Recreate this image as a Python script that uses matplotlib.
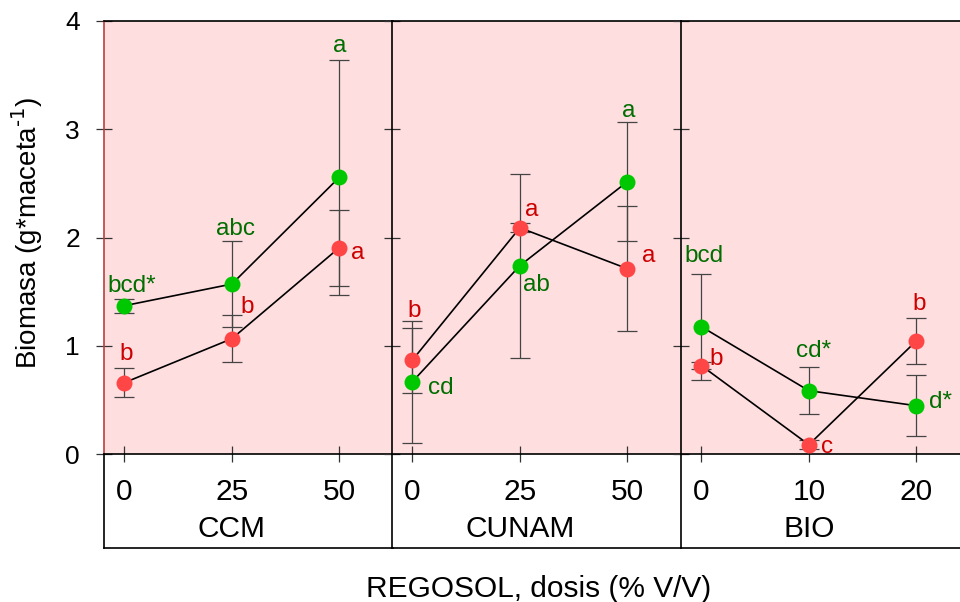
import matplotlib
matplotlib.use("Agg")
import matplotlib.pyplot as plt

plt.rcParams['font.family'] = ['Liberation Sans', 'DejaVu Sans']
plt.rcParams['mathtext.default'] = 'regular'

# data
groups = ['CCM', 'CUNAM', 'BIO']
doses = [['0', '25', '50'], ['0', '25', '50'], ['0', '10', '20']]
green_mean = [[1.37, 1.57, 2.556], [0.668, 1.74, 2.515], [1.176, 0.585, 0.446]]
green_err = [[0.065, 0.40, 1.085], [0.565, 0.85, 0.55], [0.49, 0.22, 0.28]]
red_mean = [[0.659, 1.065, 1.906], [0.868, 2.09, 1.712], [0.816, 0.086, 1.044]]
red_err = [[0.137, 0.215, 0.35], [0.30, 0.043, 0.575], [0.035, 0.043, 0.21]]
green_letters = [['bcd*', 'abc', 'a'], ['cd', 'ab', 'a'], ['bcd', 'cd*', 'd*']]
red_letters = [['b', 'b', 'a'], ['b', 'a', 'a'], ['b', 'c', 'b']]

# where each letter goes: anchor ('top' = top of error bar, 'pt' = point), dx, dy in pixels
green_place = [[('top', 7, 7), ('top', 4, 6), ('top', 0, 8)],
               [('pt', 28, -12), ('pt', 17, -25), ('top', 1, 5)],
               [('top', 3, 12), ('top', 5, 10), ('pt', 24, -2)]]
red_place = [[('top', 2, 8), ('top', 15, 2), ('pt', 18, -11)],
             [('top', 2, 11), ('pt', 12, 12), ('pt', 21, 7)],
             [('pt', 15, 1), ('pt', 18, -8), ('top', 3, 8)]]

GREEN = '#00C800'
RED = '#FF4646'
GREEN_TXT = '#006E00'
RED_TXT = '#CC0000'
PINK = '#FFDEE0'

W, H = 960, 602
fig = plt.figure(figsize=(W / 100, H / 100), dpi=100)

panel_left = [104, 392, 681]
panel_w = 289
top_y, mid_y, bot_y = 21, 454, 548
xlim = (-0.19, 2.5)


def fig_rect(x0, x1, y0, y1):
    return [x0 / W, 1 - y1 / H, (x1 - x0) / W, (y1 - y0) / H]


def put_letters(ax, x, means, errs, letters, places, color):
    for xi, m, e, t, (anchor, dx, dy) in zip(x, means, errs, letters, places):
        yy = m + e if anchor == 'top' else m
        ax.annotate(t, (xi, yy), xytext=(dx, dy), textcoords='offset pixels',
                    ha='center', va='baseline', color=color, fontsize=17.5,
                    annotation_clip=False, zorder=6)


for i, g in enumerate(groups):
    x0 = panel_left[i]
    ax = fig.add_axes(fig_rect(x0, x0 + panel_w, top_y, mid_y))
    ax.set_facecolor(PINK)
    x = [0, 1, 2]

    ax.errorbar(x, green_mean[i], yerr=green_err[i], fmt='none', ecolor='#444444',
                elinewidth=0.9, capsize=7, capthick=0.9, zorder=2)
    ax.errorbar(x, red_mean[i], yerr=red_err[i], fmt='none', ecolor='#444444',
                elinewidth=0.9, capsize=7, capthick=0.9, zorder=2)
    ax.plot(x, green_mean[i], color='black', lw=1.2, zorder=3)
    ax.plot(x, red_mean[i], color='black', lw=1.2, zorder=3)
    ax.plot(x, green_mean[i], 'o', ms=11.5, color=GREEN, mec='none', zorder=4)
    ax.plot(x, red_mean[i], 'o', ms=11.5, color=RED, mec='none', zorder=4)

    put_letters(ax, x, green_mean[i], green_err[i], green_letters[i], green_place[i], GREEN_TXT)
    put_letters(ax, x, red_mean[i], red_err[i], red_letters[i], red_place[i], RED_TXT)

    ax.set_xlim(xlim)
    ax.set_ylim(0, 4)
    ax.set_yticks([0, 1, 2, 3, 4])
    ax.set_xticks(x, doses[i])
    ax.tick_params(axis='y', direction='inout', length=11.5, width=0.9, color='#333333',
                   labelsize=19, pad=11.5, labelleft=(i == 0))
    ax.tick_params(axis='x', direction='inout', length=11.5, width=0.9, color='#333333',
                   labelsize=21.5, pad=11.5)

    for s in ['top', 'bottom', 'left', 'right']:
        ax.spines[s].set_linewidth(1.2)
        ax.spines[s].set_color('black')
    ax.spines['right'].set_visible(False)
    if i == 0:
        ax.spines['left'].set_color('#B84040')

    # group box under the panel
    bx = fig.add_axes(fig_rect(x0, x0 + panel_w, mid_y, bot_y))
    bx.set_xlim(xlim)
    bx.set_ylim(0, 1)
    bx.set_xticks([])
    bx.set_yticks([])
    bx.patch.set_alpha(0)
    bx.spines['top'].set_visible(False)
    bx.spines['right'].set_visible(False)
    for s in ['bottom', 'left']:
        bx.spines[s].set_linewidth(1.2)
    bx.text(1, 0.12, g, ha='center', va='baseline', fontsize=21.5)

fig.text(27 / W, 1 - 233 / H, r'Biomasa (g*maceta$^{\text{-1}}$)', rotation=90,
         ha='center', va='center', fontsize=20)
fig.text(539 / W, 1 - 597 / H, 'REGOSOL, dosis (% V/V)', ha='center', va='baseline',
         fontsize=21.5)

fig.savefig('out.png', dpi=100)
